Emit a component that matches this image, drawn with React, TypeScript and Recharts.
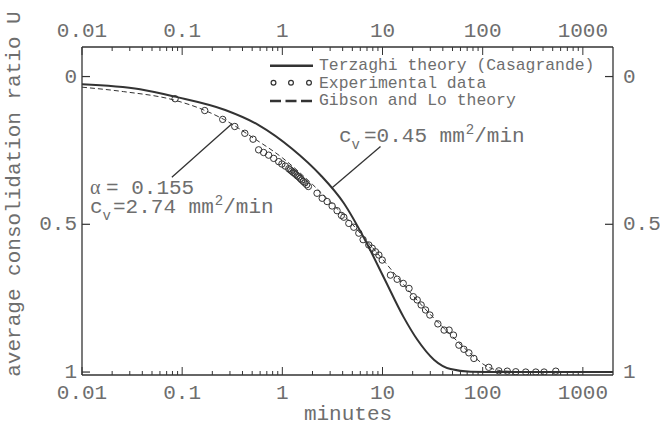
import { ComposedChart, Line, Scatter, XAxis, YAxis, ReferenceLine } from "recharts";

const MONO = '"Liberation Mono", "Courier New", monospace';
const SERIF = '"Liberation Serif", "DejaVu Serif", serif';
const TEXT = "#6e6e6e";
const INK = "#333";

// x axis (minutes, log) ticks
const MAJOR_X = [0.01, 0.1, 1, 10, 100, 1000];
const MINOR_X = [
  0.02, 0.03, 0.04, 0.05, 0.06, 0.07, 0.08, 0.09,
  0.2, 0.3, 0.4, 0.5, 0.6, 0.7, 0.8, 0.9,
  2, 3, 4, 5, 6, 7, 8, 9,
  20, 30, 40, 50, 60, 70, 80, 90,
  200, 300, 400, 500, 600, 700, 800, 900,
];
const X_TICKS = [...MAJOR_X, ...MINOR_X].sort((a, b) => a - b);
const Y_TICKS = [0, 0.5, 1];

// Terzaghi theory (Casagrande), cv = 0.45 mm2/min
const terzaghiT = [0.01, 0.038, 0.085, 0.269, 0.58, 1.25, 2.4, 4.1, 6.5, 10.3, 16.3, 22.2, 32.6, 47.9, 75.9, 150, 2000];
const terzaghiU = [0.026, 0.043, 0.068, 0.113, 0.164, 0.244, 0.333, 0.428, 0.545, 0.68, 0.815, 0.89, 0.958, 0.99, 0.999, 1, 1];

// Gibson and Lo theory, alpha = 0.155, cv = 2.74 mm2/min
const gibsonT = [0.01, 0.026, 0.082, 0.164, 0.257, 0.52, 1.0, 2.0, 3.14, 5.0, 8.0, 10.7, 15, 20, 30, 50, 80, 103, 150, 300, 2000];
const gibsonU = [0.036, 0.051, 0.079, 0.113, 0.144, 0.209, 0.275, 0.365, 0.43, 0.5, 0.58, 0.63, 0.69, 0.74, 0.805, 0.88, 0.945, 0.975, 0.995, 1, 1];

// Experimental data
const expT = [
  0.085, 0.168, 0.254, 0.335, 0.422, 0.51, 0.58, 0.65, 0.73, 0.82, 0.92, 0.99, 1.07, 1.16,
  1.2, 1.24, 1.28, 1.32, 1.36, 1.41, 1.46, 1.51, 1.56, 1.62, 1.68, 1.75, 1.82,
  2.22, 2.5, 2.8, 3.14, 3.52, 3.89, 4.11, 4.61, 5.17, 5.8,
  6.4, 7.3, 7.89, 8.51, 9.2, 9.93,
  12.0, 14.0, 16.1, 18.4, 20.3, 22.2, 24.3, 26.9, 29.7,
  35.7, 41.2, 46.2, 51.1, 57.9, 64.9, 72.8, 81.7,
  115, 145, 176, 214, 269, 339, 410, 537,
];
const expU = [
  0.075, 0.115, 0.145, 0.169, 0.192, 0.212, 0.248, 0.257, 0.266, 0.277, 0.288, 0.296, 0.303, 0.312,
  0.316, 0.32, 0.324, 0.327, 0.331, 0.336, 0.34, 0.345, 0.35, 0.355, 0.36, 0.366, 0.372,
  0.395, 0.412, 0.423, 0.438, 0.454, 0.47, 0.476, 0.497, 0.51, 0.53,
  0.552, 0.57, 0.581, 0.593, 0.604, 0.621,
  0.672, 0.686, 0.7, 0.717, 0.745, 0.756, 0.773, 0.79, 0.807,
  0.837, 0.858, 0.858, 0.875, 0.909, 0.923, 0.935, 0.954,
  0.984, 0.996, 0.997, 0.999, 1.0, 1.0, 1.0, 0.997,
];

// annotation leader lines (data coords)
const leaderTerzaghi = [{ x: 9.55, y: 0.237 }, { x: 3.14, y: 0.376 }];
const leaderGibson = [{ x: 0.0789, y: 0.341 }, { x: 0.314, y: 0.16 }];

const zip = (ts: number[], us: number[]) => ts.map((t, i) => ({ t, u: us[i] }));
const terzaghi = zip(terzaghiT, terzaghiU);
const gibson = zip(gibsonT, gibsonU);
const experimental = zip(expT, expU);

function XTick(props: any) {
  const { x, y, payload, top } = props;
  const v = payload.value;
  const major = MAJOR_X.includes(v);
  const len = major ? 8 : 4;
  const dir = top ? 1 : -1;
  return (
    <g>
      <line x1={x} x2={x} y1={y} y2={y + dir * len} stroke={INK} strokeWidth={1} />
      {major && (
        <text x={x} y={top ? y - 10 : y + 24} textAnchor="middle" fill={TEXT} fontFamily={MONO} fontSize={21}>
          {String(v)}
        </text>
      )}
    </g>
  );
}

function YTick(props: any) {
  const { x, y, payload, right } = props;
  const dir = right ? -1 : 1;
  return (
    <g>
      <line x1={x} x2={x + dir * 8} y1={y} y2={y} stroke={INK} strokeWidth={1.2} />
      <text
        x={right ? x + 10 : x - 5}
        y={y + 6}
        textAnchor={right ? "start" : "end"}
        fill={TEXT}
        fontFamily={MONO}
        fontSize={21}
      >
        {String(payload.value)}
      </text>
    </g>
  );
}

function Ring(props: any) {
  const { cx, cy } = props;
  if (cx == null || cy == null) return null;
  return <circle cx={cx} cy={cy} r={3.2} fill="none" stroke={INK} strokeWidth={1} />;
}

export default function App() {
  return (
    <div style={{ position: "absolute", left: 0, top: 0, width: 660, height: 424, background: "#fff" }}>
      <ComposedChart width={660} height={424} margin={{ top: 17, right: 7, bottom: 19, left: 22 }}>
        <XAxis
          xAxisId="bottom"
          dataKey="t"
          type="number"
          scale="log"
          domain={[0.01, 2000]}
          allowDataOverflow
          ticks={X_TICKS}
          interval={0}
          tickSize={0}
          tickMargin={0}
          height={30}
          tickLine={false}
          axisLine={{ stroke: INK, strokeWidth: 1.3 }}
          tick={<XTick />}
        />
        <XAxis
          xAxisId="top"
          orientation="top"
          dataKey="t"
          type="number"
          scale="log"
          domain={[0.01, 2000]}
          allowDataOverflow
          ticks={X_TICKS}
          interval={0}
          tickSize={0}
          tickMargin={0}
          height={30}
          tickLine={false}
          axisLine={{ stroke: INK, strokeWidth: 1.3 }}
          tick={<XTick top />}
        />
        <YAxis
          yAxisId="left"
          dataKey="u"
          type="number"
          reversed
          domain={[-0.1, 1.01]}
          allowDataOverflow
          ticks={Y_TICKS}
          interval={0}
          tickSize={0}
          tickMargin={0}
          width={60}
          tickLine={false}
          axisLine={{ stroke: INK, strokeWidth: 1.3 }}
          tick={<YTick />}
        />
        <YAxis
          yAxisId="right"
          orientation="right"
          dataKey="u"
          type="number"
          reversed
          domain={[-0.1, 1.01]}
          allowDataOverflow
          ticks={Y_TICKS}
          interval={0}
          tickSize={0}
          tickMargin={0}
          width={40}
          tickLine={false}
          axisLine={{ stroke: INK, strokeWidth: 1.3 }}
          tick={<YTick right />}
        />
        <Line
          xAxisId="bottom"
          yAxisId="left"
          data={gibson}
          dataKey="u"
          type="monotone"
          stroke={INK}
          strokeWidth={1}
          strokeDasharray="5 3"
          dot={false}
          isAnimationActive={false}
        />
        <Line
          xAxisId="bottom"
          yAxisId="left"
          data={terzaghi}
          dataKey="u"
          type="monotone"
          stroke={INK}
          strokeWidth={2}
          dot={false}
          isAnimationActive={false}
        />
        <Scatter
          xAxisId="bottom"
          yAxisId="left"
          data={experimental}
          dataKey="u"
          shape={<Ring />}
          isAnimationActive={false}
        />
        <ReferenceLine xAxisId="bottom" yAxisId="left" segment={leaderTerzaghi} stroke={INK} strokeWidth={1.3} ifOverflow="visible" />
        <ReferenceLine xAxisId="bottom" yAxisId="left" segment={leaderGibson} stroke={INK} strokeWidth={1.3} ifOverflow="visible" />
      </ComposedChart>

      <svg width={660} height={424} style={{ position: "absolute", left: 0, top: 0, pointerEvents: "none" }}>
        {/* axis titles */}
        <text x={348} y={420} textAnchor="middle" fill={TEXT} fontFamily={MONO} fontSize={21}>
          minutes
        </text>
        <text
          x={20}
          y={194}
          textAnchor="middle"
          transform="rotate(-90, 20, 194)"
          fill={TEXT}
          fontFamily={MONO}
          fontSize={21}
        >
          average consolidation ratio U
        </text>

        {/* legend */}
        <line x1={270} x2={313} y1={65.7} y2={65.7} stroke={INK} strokeWidth={2.5} />
        <circle cx={273.5} cy={82.7} r={2.4} fill="none" stroke={INK} strokeWidth={1.2} />
        <circle cx={291} cy={82.7} r={2.4} fill="none" stroke={INK} strokeWidth={1.2} />
        <circle cx={309} cy={82.7} r={2.4} fill="none" stroke={INK} strokeWidth={1.2} />
        <line x1={270} x2={313.3} y1={101} y2={101} stroke={INK} strokeWidth={2.5} strokeDasharray="11 4.5" />
        <g fill={TEXT} fontFamily={MONO} fontSize={16.4}>
          <text x={319} y={70}>Terzaghi theory (Casagrande)</text>
          <text x={319} y={87.5}>Experimental data</text>
          <text x={319} y={105}>Gibson and Lo theory</text>
        </g>

        {/* annotations */}
        <text y={141.7} fill={TEXT} fontFamily={MONO} fontSize={21}>
          <tspan x={339}>c</tspan>
          <tspan x={351.5} y={149} fontSize={14}>v</tspan>
          <tspan x={364} y={141.7}>=0.45 mm</tspan>
          <tspan dx={1} y={133.5} fontSize={14}>2</tspan>
          <tspan y={141.7}>/min</tspan>
        </text>
        <text y={194} fill={TEXT} fontSize={21}>
          <tspan x={90} fontFamily={SERIF} fontSize={20}>α</tspan>
          <tspan x={106} fontFamily={MONO}>= 0.155</tspan>
        </text>
        <text y={213} fill={TEXT} fontFamily={MONO} fontSize={21}>
          <tspan x={90}>c</tspan>
          <tspan x={102.5} y={219.5} fontSize={14}>v</tspan>
          <tspan x={113} y={213}>=2.74 mm</tspan>
          <tspan dx={1} y={205} fontSize={14}>2</tspan>
          <tspan y={213}>/min</tspan>
        </text>
      </svg>
    </div>
  );
}
